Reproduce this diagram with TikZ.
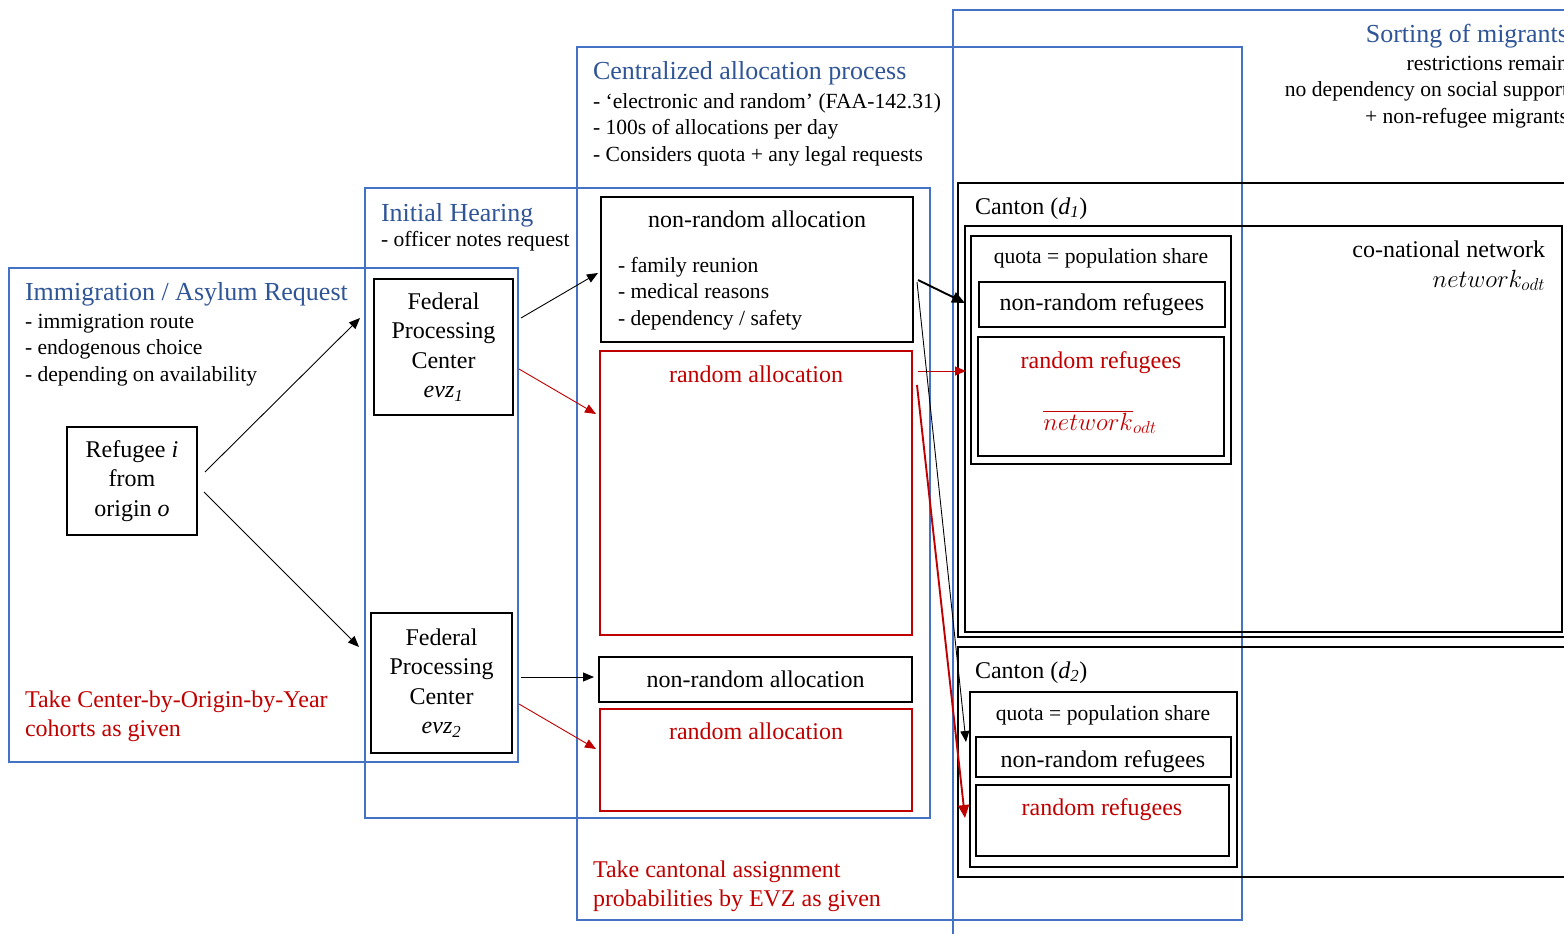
\documentclass[tikz,border=0pt]{standalone}
\usepackage{fontspec}
\setmainfont{Liberation Serif}
\usetikzlibrary{arrows.meta,calc}
\definecolor{tblue}{RGB}{47,85,151}
\definecolor{lblue}{RGB}{68,114,196}
\definecolor{dred}{RGB}{192,0,0}
\newcommand{\myfsA}{\fontsize{21.6}{26.5}\selectfont}
\newcommand{\myfsB}{\fontsize{24}{29.5}\selectfont}
\newcommand{\myfsT}{\fontsize{26}{30}\selectfont}
\tikzset{
  x=1pt, y=-1pt,
  boxbase/.style={anchor=north west, inner sep=0pt, outer sep=0pt},
  bluebox/.style={boxbase, draw=lblue, line width=1.3pt},
  blackbox/.style={boxbase, draw=black, line width=1.4pt},
  redbox/.style={boxbase, draw=dred, line width=1.4pt},
  centerbox/.style={draw=black, line width=1.4pt, inner sep=0pt, outer sep=0pt, align=center, font=\myfsB},
  txt/.style={inner sep=0pt, outer sep=0pt},
  ttl/.style={txt, text=tblue, font=\myfsT},
  lst/.style={txt, font=\myfsA, align=left},
  big/.style={txt, font=\myfsB},
  arr/.style={-{Triangle[length=11pt,width=9pt]}, line width=0.9pt},
  thickarr/.style={-{Triangle[length=13pt,width=11pt]}, line width=1.9pt},
}
\begin{document}
\begin{tikzpicture}
\useasboundingbox (0,0) rectangle (1564,934);
\clip (0,0) rectangle (1564,934);

% blue frames
\node[bluebox, minimum width=509pt, minimum height=494pt] (imm) at (9,268) {};
\node[bluebox, minimum width=565pt, minimum height=630pt] (ih) at (365,188) {};
\node[bluebox, minimum width=665pt, minimum height=873pt] (cap) at (577,47) {};
\node[bluebox, minimum width=700pt, minimum height=1000pt] (sort) at (953,10) {};

% left
\node[centerbox, minimum width=130pt, minimum height=108pt, anchor=north west] (ref) at (67,427)
  {Refugee \textit{i}\\from\\origin \textit{o}};
\node[centerbox, minimum width=139pt, minimum height=136pt, anchor=north west] (evz1) at (374,279)
  {Federal\\Processing\\Center\\\textit{evz}\textsubscript{\textit{1}}};
\node[centerbox, minimum width=141pt, minimum height=140pt, anchor=north west] (evz2) at (371,613)
  {Federal\\Processing\\Center\\\textit{evz}\textsubscript{\textit{2}}};

% allocation boxes
\node[blackbox, minimum width=312pt, minimum height=145pt] (nr1) at (601,197) {};
\node[redbox, minimum width=312pt, minimum height=284pt] (ra1) at (600,351) {};
\node[centerbox, minimum width=313pt, minimum height=45pt, anchor=north west] (nr2) at (599,657) {non-random allocation};
\node[redbox, minimum width=312pt, minimum height=102pt] (ra2) at (600,709) {};

% cantons
\node[blackbox, minimum width=700pt, minimum height=454pt] (c1) at (958,183) {};
\node[blackbox, minimum width=597pt, minimum height=406pt] (net1) at (965,226) {};
\node[blackbox, minimum width=260pt, minimum height=228pt] (q1) at (971,236) {};
\node[centerbox, minimum width=246pt, minimum height=45pt, anchor=north west] (d1nr) at (979,282) {non-random refugees};
\node[blackbox, minimum width=246pt, minimum height=119pt] (d1rr) at (978,337) {};
\node[blackbox, minimum width=700pt, minimum height=230pt] (c2) at (958,647) {};
\node[blackbox, minimum width=267pt, minimum height=175pt] (q2) at (970,692) {};
\node[blackbox, minimum width=255pt, minimum height=40pt] (d2nr) at (976,737) {};
\node[blackbox, minimum width=253pt, minimum height=71pt] (d2rr) at (976,785) {};

% texts
\node[ttl, anchor=base west] (immT) at (25,300) {Immigration / Asylum Request};
\node[lst, anchor=north west] (immL) at (25,309.45) {\strut- immigration route\\- endogenous choice\\- depending on availability};
\node[big, text=dred, align=left, anchor=north west] (immR) at (25,686.35) {\strut Take Center-by-Origin-by-Year\\cohorts as given};

\node[ttl, anchor=base west] (ihT) at (381,221) {Initial Hearing};
\node[lst, anchor=base west] (ihL) at (381,246) {- officer notes request};

\node[ttl, anchor=base west] (capT) at (593,80) {Centralized allocation process};
\node[lst, anchor=north west] (capL) at (593,89.45) {\strut- ‘electronic and random’ (FAA-142.31)\\- 100s of allocations per day\\- Considers quota + any legal requests};
\node[big, text=dred, align=left, anchor=north west] (capR) at (593,856.35) {\strut Take cantonal assignment\\probabilities by EVZ as given};

\node[ttl, anchor=base east] (sortT) at (1568,43) {Sorting of migrants};
\node[lst, align=right, anchor=north east] (sortL) at (1568,51.45) {\strut restrictions remain\\no dependency on social support\\+ non-refugee migrants};

\node[big, anchor=base] (nr1T) at (757,227) {non-random allocation};
\node[lst, anchor=north west] (nr1L) at (618,253.45) {\strut- family reunion\\- medical reasons\\- dependency / safety};
\node[big, text=dred, anchor=base] (ra1T) at (756,382) {random allocation};
\node[big, text=dred, anchor=base] (ra2T) at (756,739) {random allocation};

\node[big, anchor=base west] (c1T) at (975,214) {Canton (\textit{d}\textsubscript{\textit{1}})};
\node[big, anchor=base west] (c2T) at (975,678) {Canton (\textit{d}\textsubscript{\textit{2}})};
\node[big, anchor=base east] (netT) at (1545,257) {co-national network};
\node[big, anchor=base east] (netM) at (1545,287) {$network_{odt}$};
\node[lst, anchor=base] (q1T) at (1101,263) {quota = population share};
\node[big, text=dred, anchor=base] (d1rrT) at (1101,368) {random refugees};
\node[big, text=dred, anchor=base] (d1rrM) at (1100,430) {$\overline{network}_{odt}$};
\node[lst, anchor=base] (q2T) at (1103,720) {quota = population share};
\node[big, anchor=base] (d2nrT) at (1103,767) {non-random refugees};
\node[big, text=dred, anchor=base] (d2rrT) at (1102,815) {random refugees};

% arrows
\draw[arr] ([shift={(8,-9)}]ref.east) -- ([shift={(-14,-29)}]evz1.west);
\draw[arr] ([shift={(7,11)}]ref.east) -- ([shift={(-12,-36)}]evz2.west);
\draw[arr] ([shift={(8,-29)}]evz1.east) -- ([shift={(-3,3.5)}]nr1.west);
\draw[arr, dred] ([shift={(6,22)}]evz1.east) -- ([shift={(-4,63)}]ra1.north west);
\draw[arr] ([shift={(9,-6)}]evz2.east) -- ([shift={(-5,-2.5)}]nr2.west);
\draw[arr, dred] ([shift={(7,21)}]evz2.east) -- ([shift={(-4,40)}]ra2.north west);
\draw[thickarr] ([shift={(5,10.5)}]nr1.east) -- ([shift={(-14,21)}]d1nr.north west);
\draw[arr, dred] ([shift={(6,20)}]ra1.north east) -- ([shift={(-12,34)}]d1rr.north west);
\draw[arr] ([shift={(4,12.5)}]nr1.east) -- ([shift={(-10,5)}]d2nr.north west);
\draw[thickarr, dred] ([shift={(5,34)}]ra1.north east) -- ([shift={(-11,33)}]d2rr.north west);
\end{tikzpicture}
\end{document}
